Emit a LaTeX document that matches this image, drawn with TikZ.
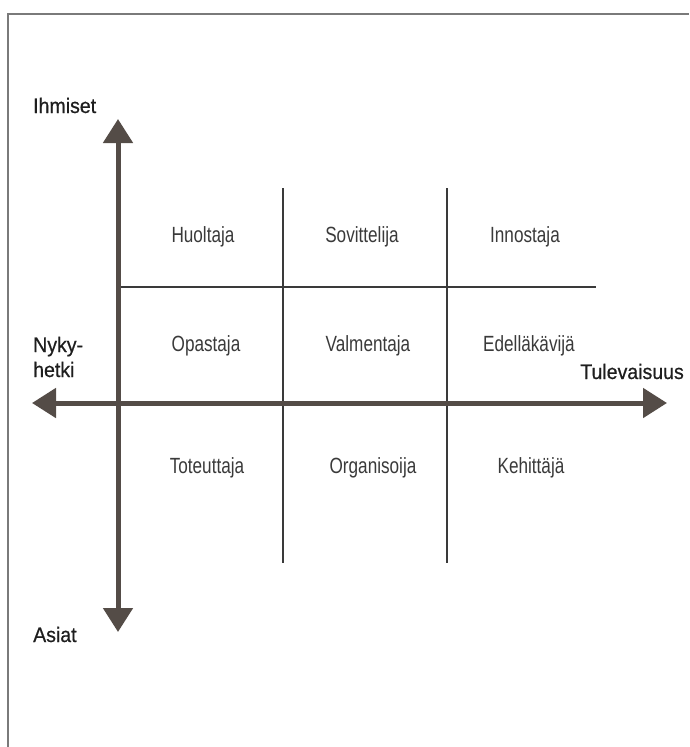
\documentclass[tikz,border=0pt]{standalone}
\usepackage{fontspec}
\usetikzlibrary{arrows.meta}
\newfontfamily\cellfont{Liberation Sans}[FakeStretch=0.78]
\newfontfamily\axisfont{Liberation Sans}[FakeStretch=0.93,FakeBold=0.6]
\definecolor{axiscol}{HTML}{544C47}
\definecolor{gridcol}{HTML}{3A3A3A}
\definecolor{framecol}{HTML}{7A7A7A}
\definecolor{txtcol}{HTML}{3A3A3A}
\definecolor{labcol}{HTML}{1E1E1E}
\tikzset{
  cell/.style={anchor=base, inner sep=0pt, text=txtcol, font=\cellfont\fontsize{22}{26}\selectfont},
  axlab/.style={anchor=base west, inner sep=0pt, text=labcol, font=\axisfont\fontsize{21}{25}\selectfont, align=left},
  axisline/.style={draw=axiscol, line width=5pt, {Triangle[length=24pt,width=29pt,fill=axiscol]}-{Triangle[length=24pt,width=29pt,fill=axiscol]}},
  gridline/.style={draw=gridcol, line width=1.1pt},
  frameline/.style={draw=framecol, line width=1.6pt}
}
\begin{document}
\begin{tikzpicture}[x=1pt,y=-1pt]
\useasboundingbox (0,0) rectangle (689,747);
% frame
\coordinate (fbl) at (8,747);
\coordinate (ftl) at (8,14);
\coordinate (ftr) at (689,14);
\draw[frameline] (fbl) -- (ftl) -- (ftr);
% grid
\coordinate (g1t) at (283,188); \coordinate (g1b) at (283,563);
\coordinate (g2t) at (447,188); \coordinate (g2b) at (447,563);
\coordinate (hl) at (118,287); \coordinate (hr) at (596,287);
\draw[gridline] (g1t) -- (g1b);
\draw[gridline] (g2t) -- (g2b);
\draw[gridline] (hl) -- (hr);
% axes
\coordinate (vtop) at (118,119); \coordinate (vbot) at (118,632);
\coordinate (hleft) at (32,403); \coordinate (hright) at (667,403);
\draw[axisline] (vbot) -- (vtop);
\draw[axisline] (hleft) -- (hright);
% axis labels
\node[axlab] (ihm) at (33,113) {Ihmiset};
\node[axlab] (asi) at (33,642) {Asiat};
\node[axlab] (nyk) at (33,352) {Nyky-};
\node[axlab] (het) at (33,377) {hetki};
\node[axlab, anchor=base east] (tul) at (684,379) {Tulevaisuus};
% cells
\node[cell] (c11) at (203,242) {Huoltaja};
\node[cell] (c12) at (362,242) {Sovittelija};
\node[cell] (c13) at (525,242) {Innostaja};
\node[cell] (c21) at (206,351) {Opastaja};
\node[cell] (c22) at (368,351) {Valmentaja};
\node[cell] (c23) at (529,351) {Edelläkävijä};
\node[cell] (c31) at (207,473) {Toteuttaja};
\node[cell] (c32) at (373,473) {Organisoija};
\node[cell] (c33) at (531,473) {Kehittäjä};
\end{tikzpicture}
\end{document}
